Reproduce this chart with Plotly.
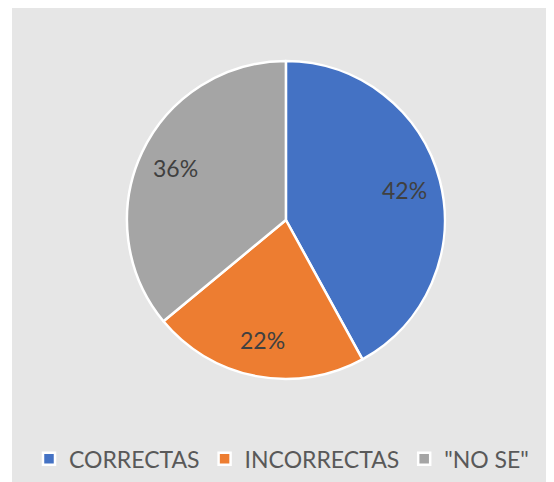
import math
import plotly.graph_objects as go

# datos
categorias = ["CORRECTAS", "INCORRECTAS", "\"NO SE\""]
porcentajes = [42, 22, 36]
colores = ["#4472C4", "#ED7D31", "#A5A5A5"]

C_BG = "#E6E6E6"
C_LABEL = "#404040"

W, H = 554, 482
M_L, M_T = 4, 2          # la página añade 8px de margen
PW, PH = W - M_L, H - M_T

DOM_X = [0.209, 0.787]
DOM_Y = [0.229, 0.896]

fig = go.Figure(go.Pie(
    labels=categorias,
    values=porcentajes,
    sort=False,
    direction="clockwise",
    rotation=0,
    marker=dict(colors=colores, line=dict(color="#FFFFFF", width=2.5)),
    textinfo="none",
    domain=dict(x=DOM_X, y=DOM_Y),
    hoverinfo="label+percent",
))

# etiquetas de porcentaje a ~0.77 del radio, estilo Excel
cx = sum(DOM_X) / 2
cy = sum(DOM_Y) / 2
r_px = min((DOM_X[1] - DOM_X[0]) * PW, (DOM_Y[1] - DOM_Y[0]) * PH) / 2
total = sum(porcentajes)
acum = 0
etiquetas = []
for v in porcentajes:
    mid = (acum + v / 2) / total * 2 * math.pi
    acum += v
    etiquetas.append(dict(
        x=cx + 0.77 * r_px * math.sin(mid) / PW,
        y=cy + 0.77 * r_px * math.cos(mid) / PH,
        xref="paper", yref="paper",
        xanchor="center", yanchor="middle",
        text=f"{v}%", showarrow=False,
        font=dict(family="Lato", size=23, color=C_LABEL),
    ))

fig.update_layout(
    width=W,
    height=H,
    margin=dict(l=M_L, r=0, t=M_T, b=0),
    paper_bgcolor="#FFFFFF",
    shapes=[dict(
        type="rect", xref="paper", yref="paper",
        x0=0, x1=1, y0=0, y1=1.01,
        fillcolor=C_BG, line=dict(width=0), layer="below",
    )],
    annotations=etiquetas,
    showlegend=True,
    legend=dict(
        orientation="h",
        x=0.49, xanchor="center",
        y=0.065, yanchor="middle",
        font=dict(family="Lato", size=23, color="#595959"),
        bgcolor="rgba(0,0,0,0)",
        itemwidth=30,
        traceorder="normal",
    ),
    font=dict(family="Lato"),
)

fig.write_html("out.html")
